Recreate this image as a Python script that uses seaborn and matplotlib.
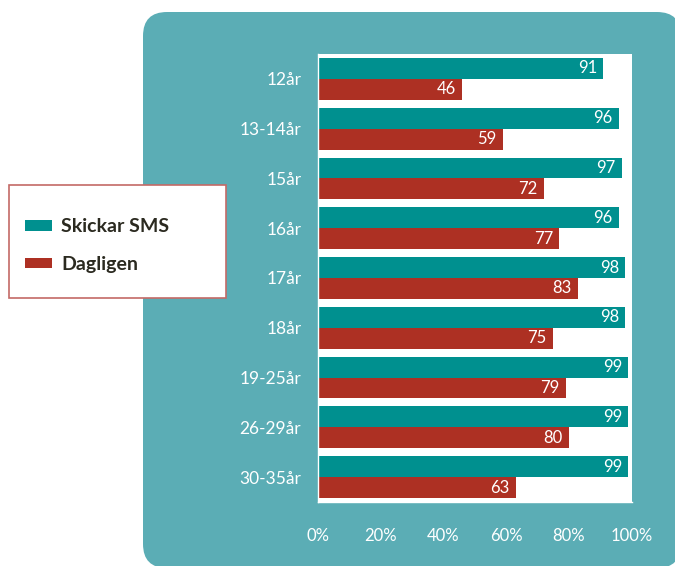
import matplotlib
matplotlib.use("Agg")
import matplotlib.pyplot as plt
from matplotlib.patches import FancyBboxPatch, Rectangle, Patch
import seaborn as sns
import pandas as pd

categories = ['12år', '13-14år', '15år', '16år', '17år', '18år', '19-25år', '26-29år', '30-35år']
sms = [91, 96, 97, 96, 98, 98, 99, 99, 99]
daily = [46, 59, 72, 77, 83, 75, 79, 80, 63]
series_names = ['Skickar SMS', 'Dagligen']
xticks = [0, 20, 40, 60, 80, 100]
xtick_labels = ['0%', '20%', '40%', '60%', '80%', '100%']

TEAL = '#00908F'
RED = '#AD3023'
PANEL = '#5BADB5'

df = pd.DataFrame({
    'cat': categories * 2,
    'val': sms + daily,
    'series': [series_names[0]] * len(categories) + [series_names[1]] * len(categories),
})

sns.set_theme(style='white')
plt.rcParams['font.family'] = ['Lato', 'DejaVu Sans']

W, H = 675, 566
fig = plt.figure(figsize=(W / 100, H / 100), dpi=100)
fig.patch.set_facecolor('white')

# teal rounded panel (pixel-based in inches)
panel = FancyBboxPatch((143 / 100, (H - 568) / 100), (681 - 143) / 100, (568 - 12) / 100,
                       boxstyle='round,pad=0,rounding_size=0.24',
                       transform=fig.dpi_scale_trans, facecolor=PANEL, edgecolor='none', zorder=-5)
fig.patches.append(panel)

ax = fig.add_axes([318 / W, 1 - 502 / H, (631.5 - 318) / W, (502 - 54) / H])
ax.set_zorder(1)
ax.set_facecolor('white')

sns.barplot(data=df, y='cat', x='val', hue='series', order=categories, hue_order=series_names,
            palette=[TEAL, RED], width=0.84, orient='h', ax=ax, legend=False,
            saturation=1, edgecolor='none')

for cont in ax.containers:
    labels = ax.bar_label(cont, fmt='%d', label_type='edge', padding=-4.5,
                          color='white', fontsize=12)
    for t in labels:
        t.set_ha('right')

ax.set_xlim(0, 100)
ax.set_ylim(len(categories) - 0.5, -0.5)
ax.set_xticks(xticks)
ax.set_xticklabels(xtick_labels, color='white', fontsize=12)
ax.set_xlabel('')
ax.set_ylabel('')
ax.tick_params(axis='y', which='major', length=0, pad=12, labelcolor='white', labelsize=12.5)
ax.set_yticks([i - 0.5 for i in range(len(categories) + 1)], minor=True)
ax.tick_params(axis='y', which='minor', length=6, width=1, color='white', direction='out')
ax.tick_params(axis='x', which='major', length=5, width=1, color='white', direction='out', pad=14)
for s in ['top', 'right']:
    ax.spines[s].set_visible(False)
for s in ['left', 'bottom']:
    ax.spines[s].set_color('white')
    ax.spines[s].set_linewidth(1)

# legend box
box = Rectangle((9 / W, 1 - 298 / H), (226 - 9) / W, (298 - 185) / H, transform=fig.transFigure,
                facecolor='white', edgecolor='#C46A66', linewidth=1.2, zorder=2)
fig.patches.append(box)
handles = [Patch(facecolor=TEAL, edgecolor='none'), Patch(facecolor=RED, edgecolor='none')]
leg = fig.legend(handles, series_names, loc='center left', bbox_to_anchor=(25 / W, 1 - 245.5 / H),
                 frameon=False, borderpad=0, borderaxespad=0,
                 handlelength=1.4, handleheight=0.45, handletextpad=0.45, labelspacing=1.05,
                 prop={'family': ['Lato', 'DejaVu Sans'], 'weight': 'bold', 'size': 14})
for t in leg.get_texts():
    t.set_color('#2B2A20')
leg.set_zorder(3)

fig.savefig('out.png', dpi=100, facecolor='white')
